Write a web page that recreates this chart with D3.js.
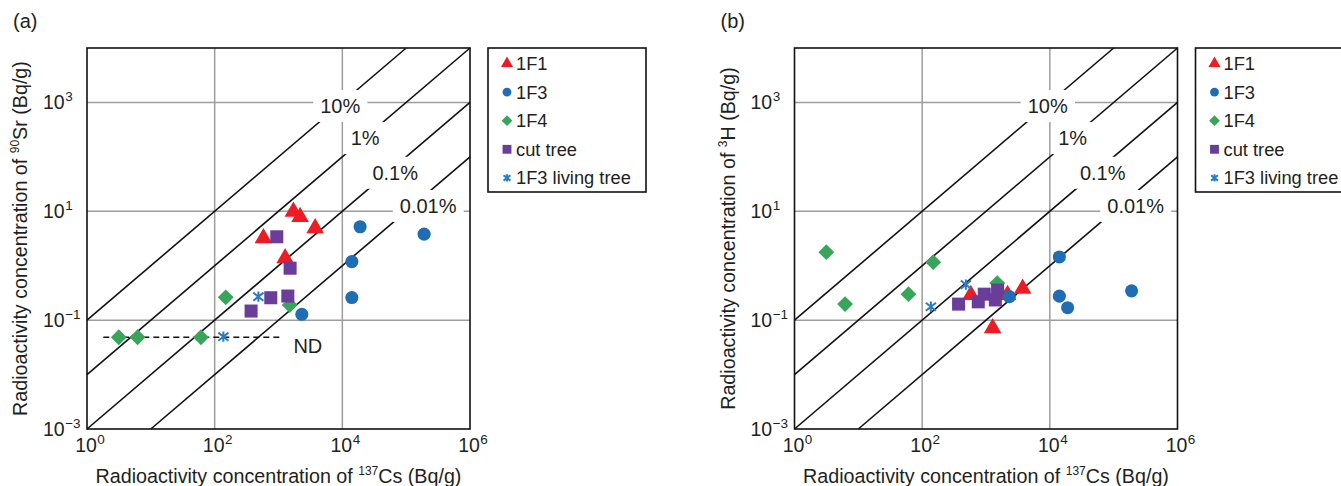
<!DOCTYPE html>
<html>
<head>
<meta charset="utf-8">
<script src="https://cdn.jsdelivr.net/npm/d3@7"></script>
<style>
  body { margin: 0; background: #fff; }
  text { font-family: 'Liberation Sans', Arial, sans-serif; fill: #231f20; }
</style>
</head>
<body>
<script>
// axes
const xTicks = [1, 1e2, 1e4, 1e6];
const yTicks = [1e-3, 1e-1, 1e1, 1e3];

// ratio guide lines (Sr or H / Cs)
const ratios = [0.1, 0.01, 0.001, 0.0001];
const ratioLabels = ['10%', '1%', '0.1%', '0.01%'];
const ratioLabelCs = [9250, 22800, 67300, 221000];
const ratioLabelY = [867, 223, 51.4, 12.6];

// not-detected level in panel (a)
const ndLevel = 0.0485;
const ndRange = [1.8, 1070];

// series
const seriesNames = ['1F1', '1F3', '1F4', 'cut tree', '1F3 living tree'];
const seriesColors = ['#ed1c24', '#1f6db4', '#38a55a', '#6a3d9a', '#2a7cc4'];

const cs1F1 = [1710, 2180, 580, 3750, 1270];
const sr1F1 = [9.8, 7.9, 3.2, 4.9, 1.37];
const h1F1 = [0.30, 0.29, 0.29, 0.38, 0.071];

const cs1F3 = [19000, 191000, 14100, 14100, 2320];
const sr1F3 = [5.2, 3.8, 1.19, 0.26, 0.128];
const h1F3 = [0.169, 0.345, 1.45, 0.276, 0.27];

const cs1F4 = [149, 1500, 3.15, 6.2, 61];
const sr1F4 = [0.263, 0.19, 0.0485, 0.0485, 0.0485];
const h1F4 = [1.16, 0.48, 1.77, 0.197, 0.30];

const csCut = [940, 1520, 757, 1400, 372];
const srCut = [3.4, 0.90, 0.258, 0.277, 0.147];
const hCut = [0.30, 0.356, 0.217, 0.235, 0.197];

const csLiving = [484, 137];
const srLiving = [0.27, 0.0497];
const hLiving = [0.45, 0.176];

const svg = d3.select('body').append('svg').attr('width', 1341).attr('height', 486);

const triangle = d3.symbol().type(d3.symbolTriangle);
const circle = d3.symbol().type(d3.symbolCircle);
const square = d3.symbol().type(d3.symbolSquare);

function asterisk(r) {
	const a = r * 0.78, b = r * 0.62;
	return `M0,${-r * 0.8}L0,${r * 0.8}M${-a},${-b}L${a},${b}M${-a},${b}L${a},${-b}`;
}

// draws one marker, k scales it (legend uses smaller ones)
function marker(g, idx, color, k) {
	if (idx === 0) return g.append('path').attr('d', triangle.size(135 * k * k)()).attr('fill', color);
	if (idx === 1) return g.append('path').attr('d', circle.size(135 * k * k)()).attr('fill', color);
	if (idx === 2) return g.append('path').attr('d', square.size(125 * k * k)()).attr('transform', 'rotate(45)').attr('fill', color);
	if (idx === 3) return g.append('path').attr('d', square.size(170 * k * k)()).attr('fill', color);
	return g.append('path').attr('d', asterisk(6.5 * k)).attr('stroke', color).attr('stroke-width', 2).attr('fill', 'none');
}

function supLabel(sel, base, exp) {
	sel.append('tspan').text(base);
	sel.append('tspan').attr('font-size', 13.5).attr('dy', -8).attr('dx', 0.5).text(exp);
}

function drawPanel(left, tag, nucleusSup, nucleus, yValues, showNd) {
	const x = d3.scaleLog().domain([1, 1e6]).range([left, left + 383]);
	const y = d3.scaleLog().domain([1e-3, 1e4]).range([429, 48]);
	const g = svg.append('g');

	// grid
	g.selectAll('.vgrid')
		.data(xTicks.slice(1, -1))
		.join('line')
		.attr('x1', (d) => x(d)).attr('x2', (d) => x(d))
		.attr('y1', y(1e4)).attr('y2', y(1e-3))
		.attr('stroke', '#9d9d9d').attr('stroke-width', 1.5);
	g.selectAll('.hgrid')
		.data(yTicks.slice(1))
		.join('line')
		.attr('x1', x(1)).attr('x2', x(1e6))
		.attr('y1', (d) => y(d)).attr('y2', (d) => y(d))
		.attr('stroke', '#9d9d9d').attr('stroke-width', 1.5);

	// ratio lines
	g.selectAll('.ratio')
		.data(ratios)
		.join('line')
		.attr('x1', (r) => x(Math.max(1, 1e-3 / r)))
		.attr('y1', (r) => y(r * Math.max(1, 1e-3 / r)))
		.attr('x2', (r) => x(Math.min(1e6, 1e4 / r)))
		.attr('y2', (r) => y(r * Math.min(1e6, 1e4 / r)))
		.attr('stroke', '#111').attr('stroke-width', 1.6);

	// ratio labels on white boxes
	ratioLabels.forEach((lab, i) => {
		const lg = g.append('g');
		const box = lg.append('rect').attr('fill', '#fff');
		const t = lg.append('text')
			.attr('x', x(ratioLabelCs[i]))
			.attr('y', y(ratioLabelY[i]))
			.attr('dy', '0.36em')
			.attr('text-anchor', 'middle')
			.attr('font-size', 20)
			.text(lab);
		const bb = t.node().getBBox();
		box.attr('x', bb.x - 7).attr('y', bb.y - 5)
			.attr('width', bb.width + 14).attr('height', bb.height + 10);
	});

	if (showNd) {
		g.append('line')
			.attr('x1', x(ndRange[0])).attr('x2', x(ndRange[1]))
			.attr('y1', y(ndLevel)).attr('y2', y(ndLevel))
			.attr('stroke', '#111').attr('stroke-width', 1.6)
			.attr('stroke-dasharray', '6,4');
		g.append('text')
			.attr('x', x(ndRange[1]) + 13)
			.attr('y', y(ndLevel) + 16)
			.attr('font-size', 20)
			.text('ND');
	}

	// points, drawn in the stacking order seen in the figure
	const cs = [cs1F1, cs1F3, cs1F4, csCut, csLiving];
	[0, 2, 3, 1, 4].forEach((s) => {
		cs[s].forEach((c, i) => {
			const pg = g.append('g').attr('transform', `translate(${x(c)},${y(yValues[s][i])})`);
			marker(pg, s, seriesColors[s], 1);
		});
	});

	// frame
	g.append('rect')
		.attr('x', x(1)).attr('y', y(1e4))
		.attr('width', x(1e6) - x(1)).attr('height', y(1e-3) - y(1e4))
		.attr('fill', 'none').attr('stroke', '#111').attr('stroke-width', 1.6);

	// tick labels
	g.selectAll('.xt')
		.data(xTicks)
		.join('text')
		.attr('x', (d) => x(d) + 3)
		.attr('y', 452)
		.attr('text-anchor', 'middle')
		.attr('font-size', 19.5)
		.each(function (d) { supLabel(d3.select(this), '10', Math.round(Math.log10(d))); });
	g.selectAll('.yt')
		.data(yTicks)
		.join('text')
		.attr('x', left - 44)
		.attr('y', (d) => y(d) + 7)
		.attr('font-size', 19.5)
		.each(function (d) {
			const e = Math.round(Math.log10(d));
			supLabel(d3.select(this), '10', e < 0 ? '\u2212' + -e : e);
		});

	// axis titles
	const xt = g.append('text')
		.attr('x', (x(1) + x(1e6)) / 2)
		.attr('y', 483)
		.attr('text-anchor', 'middle')
		.attr('font-size', 19.7);
	xt.append('tspan').text('Radioactivity concentration of ');
	xt.append('tspan').attr('font-size', 12).attr('dy', -8).text('137');
	xt.append('tspan').attr('dy', 8).text('Cs (Bq/g)');

	const yt = g.append('text')
		.attr('transform', `translate(${left - 60},${(y(1e4) + y(1e-3)) / 2}) rotate(-90)`)
		.attr('text-anchor', 'middle')
		.attr('font-size', 19.7);
	yt.append('tspan').text('Radioactivity concentration of ');
	yt.append('tspan').attr('font-size', 12).attr('dy', -8).text(nucleusSup);
	yt.append('tspan').attr('dy', 8).text(nucleus + ' (Bq/g)');

	g.append('text').attr('x', left - 74).attr('y', 28).attr('font-size', 20).text(tag);

	// legend
	const lx = x(1e6) + 18;
	const leg = g.append('g');
	leg.append('rect')
		.attr('x', lx).attr('y', 48)
		.attr('width', 158).attr('height', 144)
		.attr('fill', '#fff').attr('stroke', '#111').attr('stroke-width', 1.6);
	seriesNames.forEach((name, i) => {
		const ry = 63.5 + i * 28.6;
		const mg = leg.append('g').attr('transform', `translate(${lx + 19},${ry})`);
		marker(mg, i, seriesColors[i], 0.68);
		leg.append('text')
			.attr('x', lx + 28).attr('y', ry)
			.attr('dy', '0.36em')
			.attr('font-size', 18.3)
			.text(name);
	});
}

drawPanel(87, '(a)', '90', 'Sr', [sr1F1, sr1F3, sr1F4, srCut, srLiving], true);
drawPanel(794.5, '(b)', '3', 'H', [h1F1, h1F3, h1F4, hCut, hLiving], false);
</script>
</body>
</html>
